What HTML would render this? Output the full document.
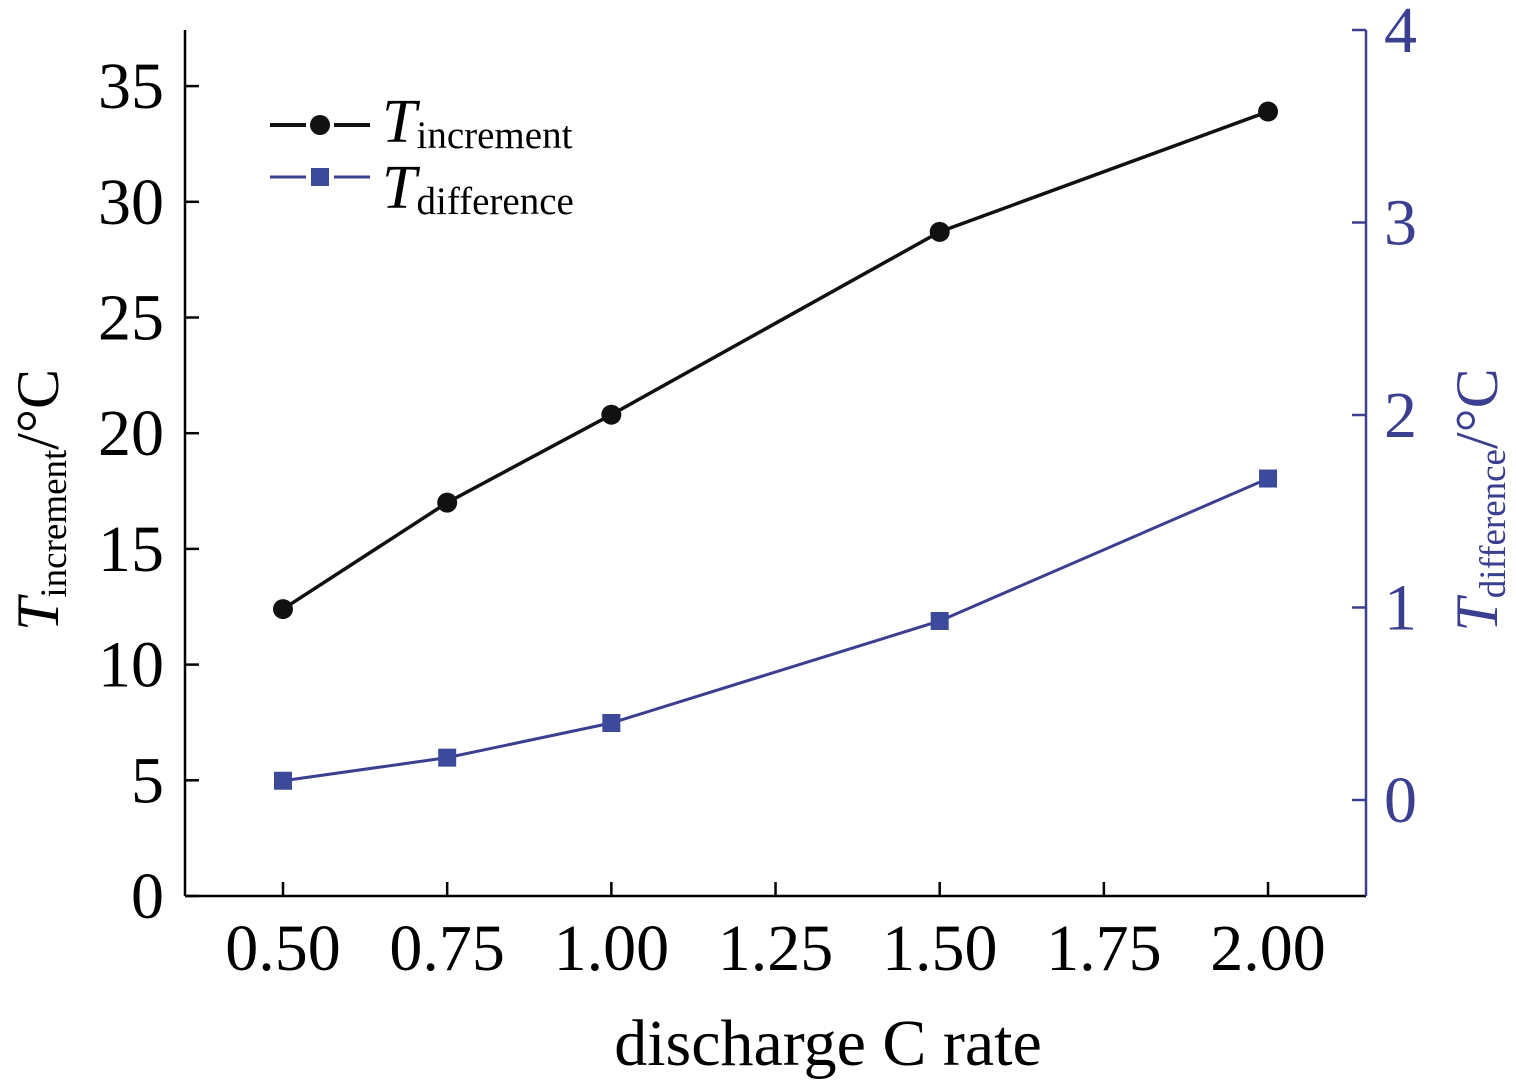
<!DOCTYPE html>
<html><head><meta charset="utf-8"><style>
html,body{margin:0;padding:0;background:#fff;}
svg{display:block;font-family:"Liberation Serif",serif;}
</style></head><body>
<svg id="chart" width="1516" height="1082" viewBox="0 0 1516 1082" xmlns="http://www.w3.org/2000/svg"></svg>
<script>
const categories=[0.5,0.75,1.0,1.5,2.0];
const incrementValues=[12.4,17.0,20.8,28.7,33.9];
const differenceValues=[0.10,0.22,0.40,0.93,1.67];
const xTicks=[0.5,0.75,1.0,1.25,1.5,1.75,2.0];
const xTickLabels=["0.50","0.75","1.00","1.25","1.50","1.75","2.00"];
const leftTicks=[0,5,10,15,20,25,30,35];
const rightTicks=[0,1,2,3,4];

const L=185,R=1366,T=30,B=896;
const xs=v=>283+(v-0.5)*656.7;
const yl=v=>896-v*23.14;
const yr=v=>800-v*192.5;
const NS="http://www.w3.org/2000/svg";
const svg=document.getElementById('chart');
function mk(tag,attrs,parent){const e=document.createElementNS(NS,tag);for(const k in attrs)e.setAttribute(k,attrs[k]);(parent||svg).appendChild(e);return e;}

let a=mk('line',{x1:L,y1:T,x2:L,y2:B,stroke:'#000','stroke-width':2.5});


a=mk('line',{x1:L,y1:B,x2:R,y2:B,stroke:'#000','stroke-width':2.5});


a=mk('line',{x1:R,y1:T,x2:R,y2:B,stroke:'#3b3f8f','stroke-width':2.5});



xTicks.forEach((v,i)=>{
  const x=xs(v);
  const t=mk('line',{x1:x,y1:B,x2:x,y2:B-14,stroke:'#000','stroke-width':2.5});
  
  
  const tx=mk('text',{x:x,y:970,'font-size':66,'text-anchor':'middle',fill:'#000'});
  tx.textContent=xTickLabels[i];
  
  
});
leftTicks.forEach(v=>{
  const y=yl(v);
  const t=mk('line',{x1:L,y1:y,x2:L+14,y2:y,stroke:'#000','stroke-width':2.5});
  
  
  const tx=mk('text',{x:164,y:y+22,'font-size':66,'text-anchor':'end',fill:'#000'});
  tx.textContent=v;
  
  
});
rightTicks.forEach(v=>{
  const y=yr(v);
  const t=mk('line',{x1:R-14,y1:y,x2:R,y2:y,stroke:'#3b3f8f','stroke-width':2.5});
  
  
  const tx=mk('text',{x:1384,y:y+22,'font-size':66,'text-anchor':'start',fill:'#3b3f8f'});
  tx.textContent=v;
  
  
});

let p=mk('polyline',{points:categories.map((c,i)=>xs(c)+','+yl(incrementValues[i])).join(' '),fill:'none',stroke:'#111','stroke-width':3.5});


categories.forEach((c,i)=>{
  const m=mk('circle',{cx:xs(c),cy:yl(incrementValues[i]),r:10,fill:'#111'});
  
  
});
p=mk('polyline',{points:categories.map((c,i)=>xs(c)+','+yr(differenceValues[i])).join(' '),fill:'none',stroke:'#3b3f8f','stroke-width':3});


categories.forEach((c,i)=>{
  const m=mk('rect',{x:xs(c)-9,y:yr(differenceValues[i])-9,width:18,height:18,fill:'#3b4a9a'});
  
  
});

const lg=mk('g',{});


mk('line',{x1:270,y1:125,x2:306,y2:125,stroke:'#111','stroke-width':4},lg);
mk('line',{x1:334,y1:125,x2:370,y2:125,stroke:'#111','stroke-width':4},lg);
mk('circle',{cx:320,cy:125,r:10,fill:'#111'},lg);
let lt=mk('text',{x:382,y:142,'font-size':62,fill:'#000'},lg);
lt.innerHTML='<tspan font-style="italic">T</tspan><tspan font-size="39" dy="6">increment</tspan>';


mk('line',{x1:270,y1:177,x2:306,y2:177,stroke:'#3b3f8f','stroke-width':3},lg);
mk('line',{x1:334,y1:177,x2:370,y2:177,stroke:'#3b3f8f','stroke-width':3},lg);
mk('rect',{x:311,y:168,width:18,height:18,fill:'#3b4a9a'},lg);
lt=mk('text',{x:382,y:208,'font-size':62,fill:'#000'},lg);
lt.innerHTML='<tspan font-style="italic">T</tspan><tspan font-size="39" dy="6">difference</tspan>';



let at=mk('text',{x:828,y:1065,'font-size':66,'text-anchor':'middle',fill:'#000'});
at.textContent='discharge C rate';


at=mk('text',{transform:'translate(58,500) rotate(-90)','font-size':60,'text-anchor':'middle',fill:'#000'});
at.innerHTML='<tspan font-style="italic">T</tspan><tspan font-size="37" dy="8">increment</tspan><tspan dy="-8">/°C</tspan>';


at=mk('text',{transform:'translate(1497,500) rotate(-90)','font-size':60,'text-anchor':'middle',fill:'#3b3f8f'});
at.innerHTML='<tspan font-style="italic">T</tspan><tspan font-size="37" dy="8">difference</tspan><tspan dy="-8">/°C</tspan>';


</script>
</body></html>
